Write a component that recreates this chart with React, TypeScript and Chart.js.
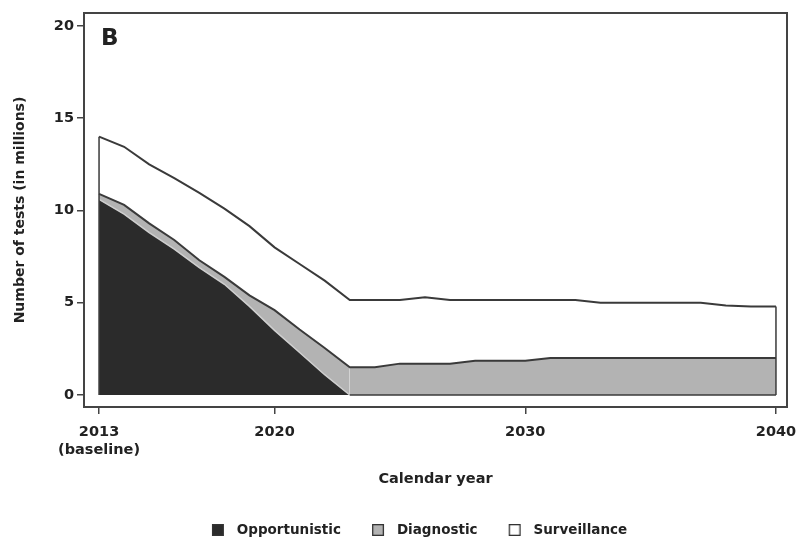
import React, { useEffect, useRef } from 'react';
import { Chart, registerables } from 'chart.js';

Chart.register(...registerables);

const years = [
  2013, 2014, 2015, 2016, 2017, 2018, 2019, 2020, 2021, 2022,
  2023, 2024, 2025, 2026, 2027, 2028, 2029, 2030, 2031, 2032,
  2033, 2034, 2035, 2036, 2037, 2038, 2039, 2040,
];

const opportunistic = [
  10.6, 9.8, 8.8, 7.9, 6.9, 6.0, 4.8, 3.5, 2.3, 1.1,
  0, 0, 0, 0, 0, 0, 0, 0, 0, 0,
  0, 0, 0, 0, 0, 0, 0, 0,
];

const diagnostic = [
  0.3, 0.5, 0.5, 0.5, 0.4, 0.4, 0.6, 1.1, 1.25, 1.45,
  1.5, 1.5, 1.7, 1.7, 1.7, 1.85, 1.85, 1.85, 2.0, 2.0,
  2.0, 2.0, 2.0, 2.0, 2.0, 2.0, 2.0, 2.0,
];

const surveillance = [
  3.1, 3.15, 3.2, 3.35, 3.65, 3.7, 3.75, 3.4, 3.55, 3.65,
  3.65, 3.65, 3.45, 3.6, 3.45, 3.3, 3.3, 3.3, 3.15, 3.15,
  3.0, 3.0, 3.0, 3.0, 3.0, 2.85, 2.8, 2.8,
];

const seriesNames = ['Opportunistic', 'Diagnostic', 'Surveillance'];
const xTickValues = [2013, 2020, 2030, 2040];
const xTickLabels: (string | string[])[] = [['2013', '(baseline)'], '2020', '2030', '2040'];
const yTickValues = [0, 5, 10, 15, 20];
const xTitle = 'Calendar year';
const yTitle = 'Number of tests (in millions)';
const panelLabel = 'B';

const fontFamily = "'DejaVu Sans', 'Liberation Sans', sans-serif";
const textColor = '#222222';
const lineColor = '#3a3a3a';
const frameColor = '#444444';
const fillColors = ['#2b2b2b', '#b3b3b3', '#ffffff'];

function makeSwatch(fill: string): HTMLCanvasElement {
  const c = document.createElement('canvas');
  c.width = 39;
  c.height = 12;
  const g = c.getContext('2d')!;
  g.fillStyle = fill;
  g.fillRect(21, 0, 12, 12);
  g.strokeStyle = '#333333';
  g.lineWidth = 1.3;
  g.strokeRect(21.65, 0.65, 10.7, 10.7);
  return c;
}

const framePlugin = {
  id: 'frameAndEdges',
  afterDatasetsDraw(chart: any) {
    const { ctx, chartArea: a, scales } = chart;
    const meta = chart.getDatasetMeta(2);
    const pts = meta.data;
    const y0 = scales.y.getPixelForValue(0);
    ctx.save();
    ctx.strokeStyle = lineColor;
    ctx.lineWidth = 1.5;
    [pts[0], pts[pts.length - 1]].forEach((p: any) => {
      ctx.beginPath();
      ctx.moveTo(p.x, y0);
      ctx.lineTo(p.x, p.y);
      ctx.stroke();
    });
    ctx.lineWidth = 2;
    ctx.strokeStyle = frameColor;
    ctx.strokeRect(a.left, a.top, a.right - a.left, a.bottom - a.top);
    ctx.fillStyle = textColor;
    ctx.font = `bold 23px ${fontFamily}`;
    ctx.textBaseline = 'alphabetic';
    ctx.textAlign = 'left';
    ctx.fillText(panelLabel, a.left + 17, a.top + 32);
    ctx.restore();
  },
};

export default function App() {
  const ref = useRef<HTMLCanvasElement>(null);

  useEffect(() => {
    const canvas = ref.current;
    if (!canvas) return;
    const swatches = fillColors.map((c) => makeSwatch(c));
    const series = [opportunistic, diagnostic, surveillance];
    const tickFont = { family: fontFamily, size: 14.5, weight: 'bold' as const };
    const legendFont = { family: fontFamily, size: 13.5, weight: 'bold' as const };

    const chart = new Chart(canvas, {
      type: 'line',
      data: {
        datasets: series.map((vals, k) => ({
          label: seriesNames[k],
          data: years.map((x, i) => ({ x, y: vals[i] })),
          backgroundColor: fillColors[k],
          borderColor: k === 0 ? '#cfcfcf' : lineColor,
          borderWidth: k === 0 ? 1.5 : 2,
          fill: k === 0 ? 'origin' : '-1',
          pointRadius: 0,
          pointHoverRadius: 0,
          tension: 0,
          segment:
            k === 0
              ? {
                  borderColor: (c: any) =>
                    c.p0.parsed.y > 0 || c.p1.parsed.y > 0 ? '#cfcfcf' : lineColor,
                }
              : undefined,
        })),
      },
      options: {
        responsive: false,
        animation: false,
        events: [],
        layout: { padding: { left: 31, right: 13, top: 13, bottom: 4.25 } },
        scales: {
          x: {
            type: 'linear',
            min: 2012.4,
            max: 2040.44,
            afterBuildTicks: (s: any) => {
              s.ticks = xTickValues.map((v) => ({ value: v }));
            },
            afterFit: (s: any) => {
              s.height = 106.25;
              s.paddingLeft = 0;
              s.paddingRight = 0;
            },
            grid: {
              drawOnChartArea: false,
              drawTicks: true,
              tickLength: 7,
              color: frameColor,
              lineWidth: 1.5,
            },
            border: { display: false },
            ticks: {
              autoSkip: false,
              maxRotation: 0,
              minRotation: 0,
              padding: 10,
              color: textColor,
              font: tickFont,
              callback: (v: any) => {
                const idx = xTickValues.indexOf(Number(v));
                return idx >= 0 ? xTickLabels[idx] : '';
              },
            },
            title: {
              display: true,
              text: xTitle,
              color: textColor,
              font: tickFont,
              padding: { top: 0, bottom: 25.5 },
            },
          },
          y: {
            type: 'linear',
            stacked: true,
            min: -0.65,
            max: 20.7,
            afterBuildTicks: (s: any) => {
              s.ticks = yTickValues.map((v) => ({ value: v }));
            },
            afterFit: (s: any) => {
              s.width = 53;
              s.paddingTop = 0;
              s.paddingBottom = 0;
            },
            grid: {
              drawOnChartArea: false,
              drawTicks: true,
              tickLength: 7,
              color: frameColor,
              lineWidth: 1.5,
            },
            border: { display: false },
            ticks: {
              padding: 3,
              color: textColor,
              font: tickFont,
              callback: (v: any) => String(v),
            },
            title: {
              display: true,
              text: yTitle,
              color: textColor,
              font: { family: fontFamily, size: 14, weight: 'bold' as const },
              padding: { top: -19.4, bottom: 0 },
            },
          },
        },
        plugins: {
          legend: {
            position: 'bottom',
            labels: {
              usePointStyle: true,
              pointStyleWidth: 39.25,
              padding: 10,
              color: textColor,
              font: legendFont,
              generateLabels: (ch: any) => {
                const base = (Chart.defaults.plugins.legend.labels as any).generateLabels(ch);
                return base.map((item: any, i: number) => ({
                  ...item,
                  pointStyle: swatches[i],
                  fontColor: textColor,
                }));
              },
            },
          },
          tooltip: { enabled: false },
        },
      },
      plugins: [framePlugin],
    } as any);

    return () => chart.destroy();
  }, []);

  return (
    <div style={{ position: 'absolute', left: 0, top: 0, width: 800, height: 551, background: '#fff' }}>
      <canvas ref={ref} width={800} height={551} style={{ width: 800, height: 551, display: 'block' }} />
    </div>
  );
}
